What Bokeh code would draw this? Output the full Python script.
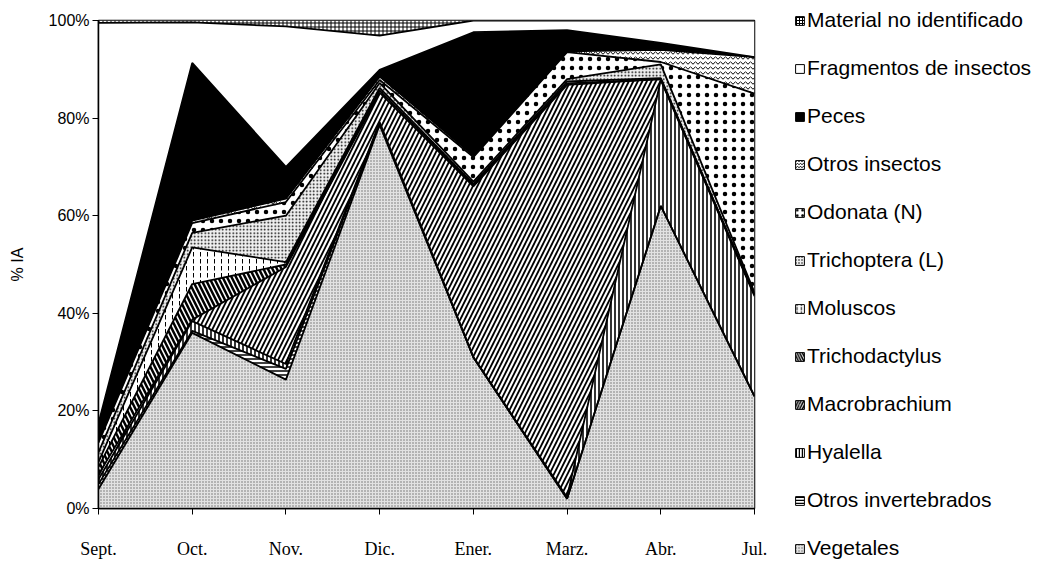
from bokeh.plotting import figure
from bokeh.models import (ColumnDataSource, FixedTicker, Legend, LegendItem,
                          PrintfTickFormatter, Range1d)
from bokeh.transform import stack
from bokeh.embed import file_html
from bokeh.resources import INLINE

months = ["Sept.", "Oct.", "Nov.", "Dic.", "Ener.", "Marz.", "Abr.", "Jul."]

vegetales = [4, 36, 26.4, 78.6, 31, 2, 62, 23]
otros_invertebrados = [1, 0.4, 2.2, 0.3, 0, 0, 0, 0]
hyalella = [1, 2, 1, 0.3, 0, 0.3, 25.8, 20.5]
macrobrachium = [1, 0.3, 19.9, 6, 35, 84.5, 0.2, 0.3]
trichodactylus = [1.5, 7.3, 0.5, 0.5, 0.3, 0.3, 0, 0]
moluscos = [1, 7.5, 0.5, 0.5, 0.2, 0.4, 0.2, 0]
trichoptera = [2, 3, 9.5, 1, 0.5, 0.5, 2.8, 0.5]
odonata = [2, 2, 2.8, 0.6, 5, 5.5, 0.5, 40.7]
otros_insectos = [0.5, 0.5, 0.7, 0.7, 0.3, 0.2, 2.5, 7.5]
peces = [3.5, 32.3, 6.5, 1.4, 25.3, 4.3, 1.4, 0]
fragmentos = [82, 8.3, 28.8, 7, 2.4, 2, 4.6, 7.5]
material = [0.5, 0.4, 1.2, 3.1, 0, 0, 0, 0]

series_names = ["Vegetales", "Otros invertebrados", "Hyalella", "Macrobrachium",
                "Trichodactylus", "Moluscos", "Trichoptera (L)", "Odonata (N)",
                "Otros insectos", "Peces", "Fragmentos de insectos",
                "Material no identificado"]
series_values = [vegetales, otros_invertebrados, hyalella, macrobrachium,
                 trichodactylus, moluscos, trichoptera, odonata, otros_insectos,
                 peces, fragmentos, material]

keys = ["s%d" % i for i in range(len(series_names))]
data = {"x": list(range(len(months)))}
for k, v in zip(keys, series_values):
    data[k] = v
src = ColumnDataSource(data)

# (fill, hatch pattern, hatch scale, hatch weight, hatch color)
styles = [
    ("#e2e2e2", "dot", 3, 1, "#6a6a6a"),
    ("white", "horizontal_line", 4, 1.5, "black"),
    ("white", "vertical_line", 4, 1.6, "black"),
    ("white", "right_diagonal_line", 9, 1.8, "black"),
    ("white", "left_diagonal_line", 9, 2.5, "black"),
    ("white", "vertical_dash", 7, 1, "black"),
    ("#f0f0f0", "dot", 3.5, 1.5, "black"),
    ("white", "dot", 9, 3.5, "black"),
    ("white", "horizontal_wave", 5, 1, "black"),
    ("black", None, 1, 1, "black"),
    ("white", None, 1, 1, "black"),
    ("white", "cross", 4, 1, "black"),
]

p = figure(frame_width=656, frame_height=488, output_backend="svg",
           toolbar_location=None, x_range=Range1d(0, 7), y_range=Range1d(0, 100),
           min_border_left=98, min_border_top=20, min_border_bottom=43,
           min_border_right=285)

# legend proxies (not drawn in the plot area)
proxy = ColumnDataSource(dict(l=[float("nan")], r=[float("nan")],
                              t=[float("nan")], b=[float("nan")]))

legend_renderers = []
for i, k in enumerate(keys):
    fill, hp, hs, hw, hc = styles[i]
    kw = dict(fill_color=fill)
    if hp:
        kw.update(hatch_pattern=hp, hatch_scale=hs, hatch_weight=hw, hatch_color=hc)
    p.varea(x="x", y1=stack(*keys[:i]), y2=stack(*keys[:i + 1]), source=src, **kw)
    lkw = dict(kw)
    if hp:
        lkw["hatch_scale"] = max(3, hs * 0.6)
        lkw["hatch_weight"] = min(hw, 1.5)
    lr = p.quad(left="l", right="r", top="t", bottom="b", source=proxy,
                line_color="black", line_width=1, **lkw)
    legend_renderers.append(lr)

for i in range(len(keys) - 1):
    p.line(x="x", y=stack(*keys[:i + 1]), source=src, line_color="black",
           line_width=1.8)

items = [LegendItem(label=series_names[i], renderers=[legend_renderers[i]])
         for i in reversed(range(len(keys)))]
legend = Legend(items=items, location=(40, -52), padding=0, margin=0,
                spacing=24, glyph_width=11, glyph_height=11, label_height=24,
                label_standoff=2, label_text_font="Liberation Sans",
                label_text_font_size="21px", label_text_color="black",
                border_line_color=None, background_fill_alpha=0)
p.add_layout(legend, "right")

p.xgrid.visible = False
p.ygrid.visible = False
p.outline_line_color = "black"
p.outline_line_width = 1.5

xa = p.xaxis[0]
xa.ticker = FixedTicker(ticks=list(range(len(months))))
xa.major_label_overrides = {i: m for i, m in enumerate(months)}
xa.major_label_text_font = "Liberation Serif"
xa.major_label_text_font_size = "18px"
xa.major_label_text_color = "black"
xa.major_tick_out = 6
xa.major_tick_in = 0
xa.minor_tick_line_color = None
xa.major_label_standoff = 24
xa.axis_line_color = "black"
xa.axis_line_width = 1.5

ya = p.yaxis[0]
ya.ticker = FixedTicker(ticks=[0, 20, 40, 60, 80, 100])
ya.formatter = PrintfTickFormatter(format="%d%%")
ya.major_label_text_font = "Liberation Sans"
ya.major_label_text_font_size = "16px"
ya.major_label_text_color = "black"
ya.major_tick_out = 6
ya.major_tick_in = 0
ya.minor_tick_line_color = None
ya.major_label_standoff = 3
ya.axis_line_color = "black"
ya.axis_line_width = 1.5
ya.axis_label = "% IA"
ya.axis_label_text_font = "Liberation Sans"
ya.axis_label_text_font_size = "16px"
ya.axis_label_text_font_style = "normal"
ya.axis_label_text_color = "black"
ya.axis_label_standoff = 20

open("out.html", "w").write(file_html(p, INLINE))
